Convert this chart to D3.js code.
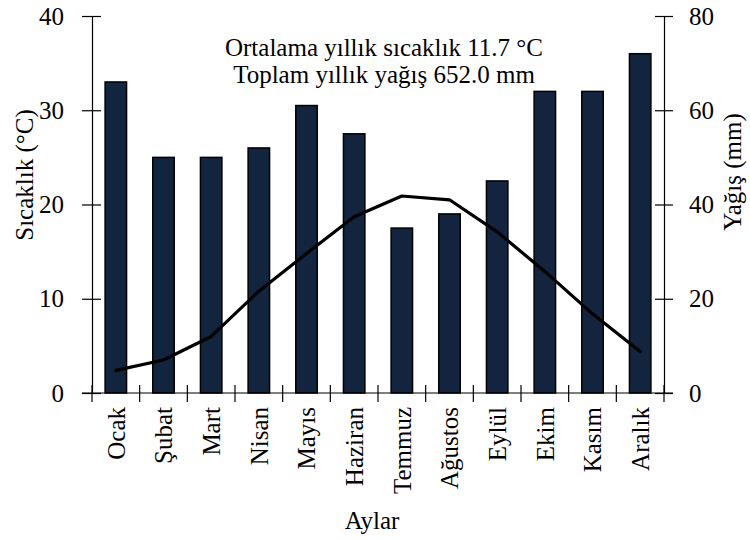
<!DOCTYPE html>
<html>
<head>
<meta charset="utf-8">
<script src="https://cdn.jsdelivr.net/npm/d3@7"></script>
<style>
  body { margin: 0; background: #fff; }
</style>
</head>
<body>
<div id="chart"></div>
<script>
// monthly values
var months = ["Ocak", "Şubat", "Mart", "Nisan", "Mayıs", "Haziran", "Temmuz", "Ağustos", "Eylül", "Ekim", "Kasım", "Aralık"];
var precip = [66, 50, 50, 52, 61, 55, 35, 38, 45, 64, 64, 72];
var temp = [2.4, 3.5, 6.0, 10.8, 14.8, 18.7, 20.9, 20.5, 17.1, 12.9, 8.4, 4.4];
var tempTicks = [0, 10, 20, 30, 40];
var precipTicks = [0, 20, 40, 60, 80];
var notes = ["Ortalama yıllık sıcaklık 11.7 °C", "Toplam yıllık yağış 652.0 mm"];

var W = 750, H = 539;
var plotL = 92, plotR = 664, plotT = 16, plotB = 393;
var serif = "'Liberation Serif', 'Times New Roman', serif";

var svg = d3.select("#chart").append("svg")
  .attr("width", W)
  .attr("height", H);

var x = d3.scaleBand().domain(months).range([plotL, plotR]).paddingInner(0.55).paddingOuter(0.275);
var yT = d3.scaleLinear().domain([0, 40]).range([plotB, plotT]);
var yP = d3.scaleLinear().domain([0, 80]).range([plotB, plotT]);

// bars = precipitation
svg.append("g").selectAll("rect")
  .data(months)
  .enter()
  .append("rect")
  .attr("x", function(d) { return x(d); })
  .attr("y", function(d, i) { return yP(precip[i]); })
  .attr("width", x.bandwidth())
  .attr("height", function(d, i) { return plotB - yP(precip[i]); })
  .attr("fill", "#13243f")
  .attr("stroke", "#000")
  .attr("stroke-width", 1.5);

// temperature line
var line = d3.line()
  .x(function(d, i) { return x(months[i]) + x.bandwidth() / 2; })
  .y(function(d) { return yT(d); });
svg.append("path")
  .datum(temp)
  .attr("d", line)
  .attr("fill", "none")
  .attr("stroke", "#000")
  .attr("stroke-width", 3.2)
  .attr("stroke-linejoin", "round")
  .attr("stroke-linecap", "round");

// axes
var leftAxis = d3.axisLeft(yT).tickValues(tempTicks).tickSizeInner(10).tickSizeOuter(0).tickPadding(18);
var gl = svg.append("g").attr("transform", "translate(" + plotL + ",0)").call(leftAxis);

var rightAxis = d3.axisRight(yP).tickValues(precipTicks).tickSizeInner(9).tickSizeOuter(0).tickPadding(16);
var gr = svg.append("g").attr("transform", "translate(" + plotR + ",0)").call(rightAxis);

[gl, gr].forEach(function(g) {
  g.select(".domain").attr("stroke", "#000").attr("stroke-width", 1.2);
  g.selectAll(".tick line").attr("stroke", "#000").attr("stroke-width", 1.2);
  g.selectAll(".tick text").style("font-size", "25px").style("font-family", serif).attr("fill", "#000");
});
// ticks cross the axis line
gl.selectAll(".tick line").attr("x1", 9);
gr.selectAll(".tick line").attr("x1", -9);

// bottom axis with ticks between bands
var bounds = months.map(function(m) { return x(m) - x.step() * x.paddingInner() / 2; }).concat([plotR]);
var gb = svg.append("g");
gb.append("line")
  .attr("x1", plotL - 10).attr("x2", plotR + 9)
  .attr("y1", plotB).attr("y2", plotB)
  .attr("stroke", "#000").attr("stroke-width", 1.2);
gb.selectAll("line.tk")
  .data(bounds)
  .enter()
  .append("line")
  .attr("class", "tk")
  .attr("x1", function(d) { return d; }).attr("x2", function(d) { return d; })
  .attr("y1", plotB - 8).attr("y2", plotB + 9)
  .attr("stroke", "#000").attr("stroke-width", 1.2);
gb.selectAll("text")
  .data(months)
  .enter()
  .append("text")
  .attr("transform", function(d) { return "translate(" + (x(d) + x.bandwidth() / 2) + "," + (plotB + 14) + ") rotate(-90)"; })
  .attr("text-anchor", "end")
  .attr("dy", "0.35em")
  .style("font-family", serif)
  .style("font-size", "25px")
  .text(function(d) { return d; });

// axis titles
svg.append("text")
  .attr("transform", "translate(33,175) rotate(-90)")
  .attr("text-anchor", "middle")
  .style("font-family", serif)
  .style("font-size", "25px")
  .text("Sıcaklık (°C)");
svg.append("text")
  .attr("transform", "translate(741,172) rotate(-90)")
  .attr("text-anchor", "middle")
  .style("font-family", serif)
  .style("font-size", "25px")
  .text("Yağış (mm)");
svg.append("text")
  .attr("x", 372).attr("y", 529)
  .attr("text-anchor", "middle")
  .style("font-family", serif)
  .style("font-size", "25px")
  .text("Aylar");

// annotation
svg.append("g").selectAll("text")
  .data(notes)
  .enter()
  .append("text")
  .attr("x", 384)
  .attr("y", function(d, i) { return 56 + i * 27; })
  .attr("text-anchor", "middle")
  .style("font-family", serif)
  .style("font-size", "25px")
  .text(function(d) { return d; });
</script>
</body>
</html>
